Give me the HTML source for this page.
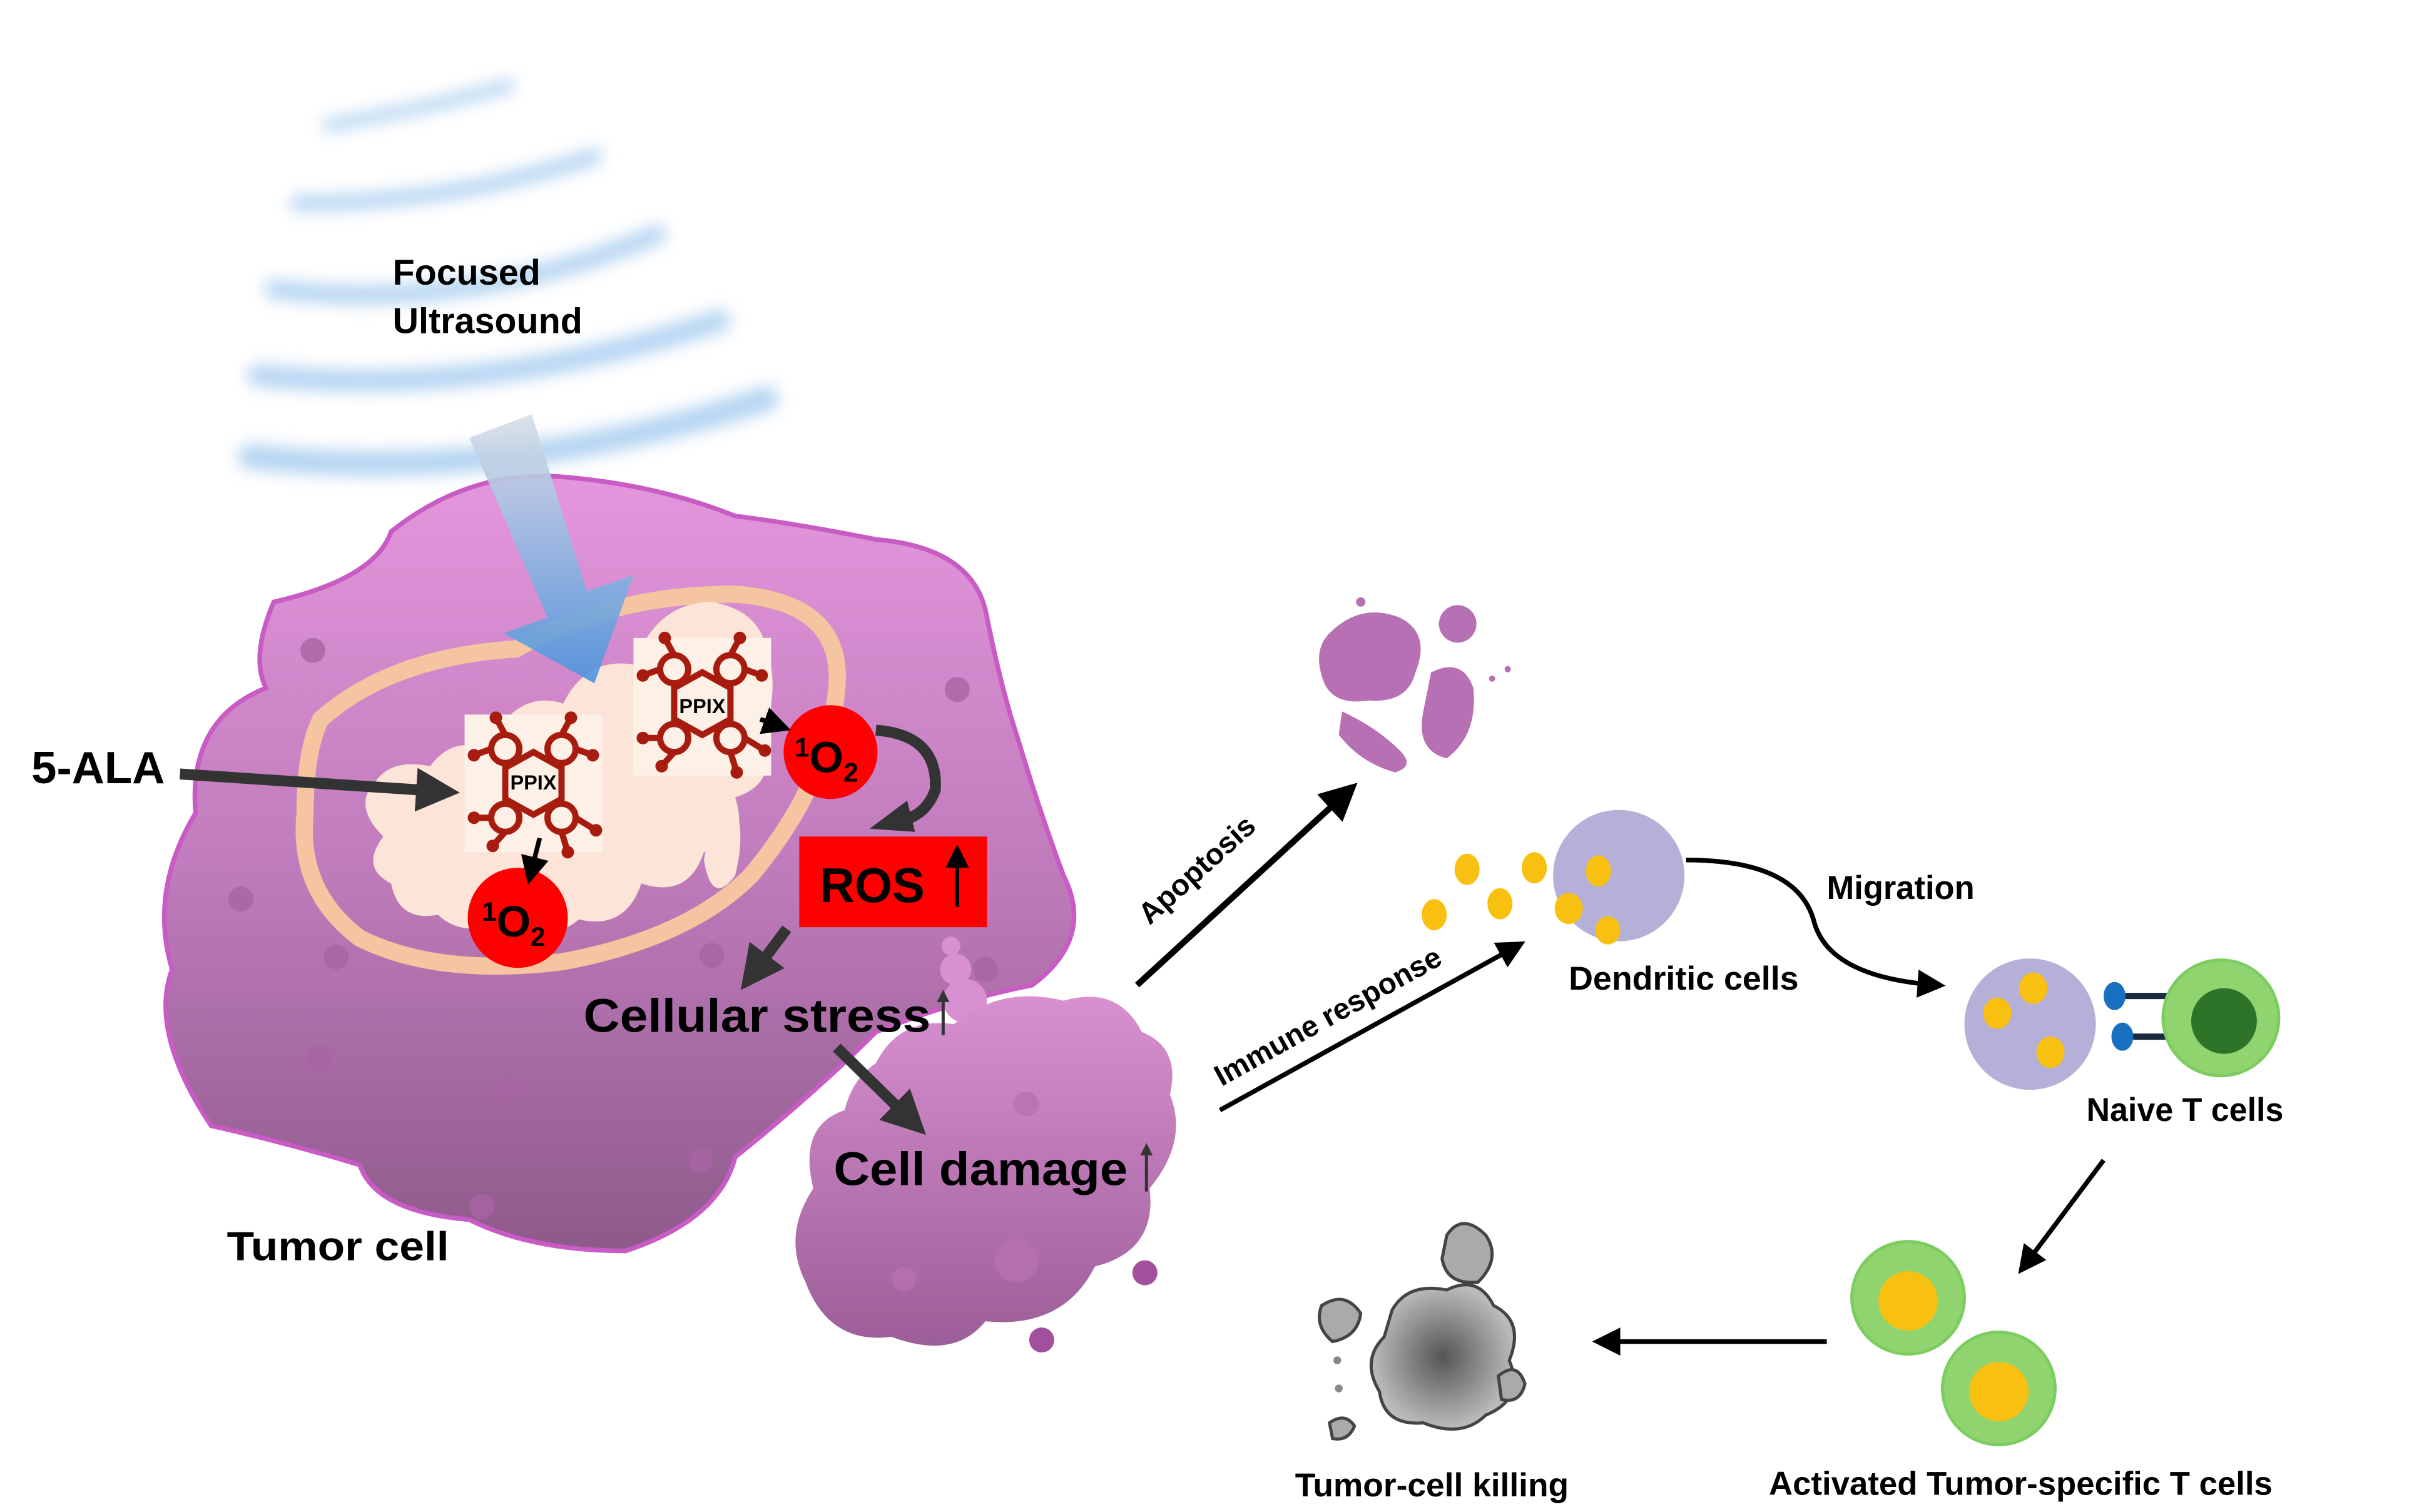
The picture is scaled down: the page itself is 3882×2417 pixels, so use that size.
<!DOCTYPE html>
<html><head><meta charset="utf-8"><style>
html,body{margin:0;padding:0;background:#fff}
svg{display:block}
text{font-family:"Liberation Sans",sans-serif;font-weight:bold}
</style></head><body>
<svg width="3882" height="2417" viewBox="0 0 1553 967" xmlns="http://www.w3.org/2000/svg">
<defs>
<linearGradient id="cellg" x1="0" y1="0" x2="0" y2="1">
<stop offset="0" stop-color="#e496dc"/><stop offset="0.5" stop-color="#c07cbc"/><stop offset="1" stop-color="#8e5a8a"/>
</linearGradient>
<linearGradient id="dmg" x1="0" y1="0" x2="0" y2="1">
<stop offset="0" stop-color="#d890d0"/><stop offset="1" stop-color="#9c5e98"/>
</linearGradient>
<linearGradient id="usarrow" x1="0" y1="0" x2="0" y2="1">
<stop offset="0" stop-color="#d8dde6"/><stop offset="1" stop-color="#4a94dc"/>
</linearGradient>
<radialGradient id="grey" cx="0.5" cy="0.5" r="0.5">
<stop offset="0" stop-color="#555"/><stop offset="1" stop-color="#bbb"/>
</radialGradient>
<filter id="blur"><feGaussianBlur stdDeviation="5"/></filter>
<marker id="ah" markerWidth="6" markerHeight="6" refX="4" refY="3" orient="auto" markerUnits="strokeWidth">
<path d="M0,0 L6,3 L0,6 z" fill="#000"/></marker>
<marker id="ahd" markerWidth="4" markerHeight="4" refX="2" refY="2" orient="auto" markerUnits="strokeWidth">
<path d="M0,0 L4,2 L0,4 z" fill="#333"/></marker>
<g id="mol">
<g stroke="#a81c10" stroke-width="4" fill="none">
<polygon points="0,-20 18,-10 18,10 0,20 -18,10 -18,-10"/>
<circle cx="-18" cy="-22" r="9"/><circle cx="18" cy="-22" r="9"/><circle cx="-18" cy="22" r="9"/><circle cx="18" cy="22" r="9"/>
<line x1="-18" y1="-31" x2="-24" y2="-42"/><line x1="18" y1="-31" x2="24" y2="-42"/>
<line x1="-27" y1="-22" x2="-38" y2="-18"/><line x1="27" y1="-22" x2="38" y2="-18"/>
<line x1="-27" y1="22" x2="-38" y2="22"/><line x1="27" y1="22" x2="40" y2="30"/>
<line x1="-18" y1="31" x2="-26" y2="40"/><line x1="18" y1="31" x2="22" y2="44"/>
</g>
<g fill="#a81c10"><circle cx="-24" cy="-42" r="4"/><circle cx="24" cy="-42" r="4"/><circle cx="-38" cy="-18" r="4"/><circle cx="38" cy="-18" r="4"/><circle cx="-38" cy="22" r="4"/><circle cx="40" cy="30" r="4"/><circle cx="-26" cy="40" r="4"/><circle cx="22" cy="44" r="4"/></g>
</g>
</defs>

<!-- ultrasound waves -->
<g fill="none" stroke="#a8cdef" stroke-linecap="round" filter="url(#blur)" opacity="0.85">
<path d="M210,80 Q270,70 325,55" stroke-width="8"/>
<path d="M190,130 Q290,130 380,100" stroke-width="10"/>
<path d="M175,185 Q300,200 420,150" stroke-width="12"/>
<path d="M165,240 Q310,255 460,205" stroke-width="14"/>
<path d="M160,292 Q320,310 490,255" stroke-width="16"/>
</g>
<text x="251" y="182" font-size="23">Focused</text>
<text x="251" y="213" font-size="23">Ultrasound</text>

<!-- tumor cell -->
<path d="M250,340 Q240,370 175,385 Q160,420 170,440 Q120,460 125,520 Q95,570 110,620 Q95,660 135,720 Q180,730 230,745 Q240,775 300,780 Q340,800 400,800 Q460,780 470,740 Q520,700 560,660 Q610,640 660,630 Q700,600 680,560 Q665,520 650,470 Q640,440 630,390 Q620,350 560,345 Q510,335 470,330 Q420,310 360,305 Q300,300 250,340 Z" fill="url(#cellg)" stroke="#c85cc4" stroke-width="3"/>
<g fill="#a864a4" opacity="0.8">
<circle cx="200" cy="416" r="8"/><circle cx="154" cy="575" r="8"/><circle cx="215" cy="612" r="8"/><circle cx="325" cy="697" r="8"/><circle cx="204" cy="677" r="8"/><circle cx="448" cy="742" r="8"/><circle cx="455" cy="611" r="8"/><circle cx="612" cy="441" r="8"/><circle cx="630" cy="620" r="8"/><circle cx="308" cy="772" r="8"/>
</g>
<!-- mitochondrion -->
<path d="M205,460 Q250,420 330,415 Q390,380 470,380 Q540,385 535,440 Q530,500 480,560 Q440,600 360,615 Q280,625 230,600 Q190,570 195,520 Q195,480 205,460 Z" fill="none" stroke="#f5c4a0" stroke-width="11"/>
<g fill="#fce4d8">
<path d="M240,500 Q250,485 275,490 Q290,470 310,480 Q330,440 360,450 Q375,420 405,425 Q420,385 455,385 Q485,390 490,415 Q500,445 485,470 Q500,500 470,510 Q480,540 450,545 Q440,575 410,565 Q400,595 370,588 Q350,605 325,590 Q295,600 280,585 Q255,590 250,565 Q230,555 245,535 Q225,515 240,500 Z"/>
<path d="M460,500 Q480,520 470,560 Q455,580 450,550 Z"/>
</g>
<!-- ultrasound arrow -->
<polygon points="300,280 340,265 375,378 405,368 380,437 322,405 350,395" fill="url(#usarrow)" opacity="0.9"/>
<!-- PPIX boxes -->
<rect x="297" y="457" width="88" height="88" fill="#fdf0e6"/>
<use href="#mol" x="341" y="501"/>
<text x="341" y="505" font-size="13" text-anchor="middle">PPIX</text>
<rect x="405" y="408" width="88" height="88" fill="#fdf0e6"/>
<use href="#mol" x="449" y="450"/>
<text x="449" y="456" font-size="13" text-anchor="middle">PPIX</text>
<ellipse cx="331" cy="587" rx="32" ry="32" fill="#f00"/>
<text x="308" y="599" font-size="28" font-weight="normal"><tspan font-size="17" dy="-10">1</tspan><tspan dy="10">O</tspan><tspan font-size="17" dy="6">2</tspan></text>
<ellipse cx="531" cy="481" rx="30" ry="30" fill="#f00"/>
<text x="508" y="494" font-size="28" font-weight="normal"><tspan font-size="17" dy="-10">1</tspan><tspan dy="10">O</tspan><tspan font-size="17" dy="6">2</tspan></text>
<line x1="345" y1="536" x2="339" y2="560" stroke="#000" stroke-width="3" marker-end="url(#ah)"/>
<line x1="486" y1="460" x2="500" y2="465" stroke="#000" stroke-width="3" marker-end="url(#ah)"/>
<path d="M560,467 Q600,470 598,505 Q592,522 575,525" fill="none" stroke="#333" stroke-width="7"/>
<polygon points="556,530 580,512 585,532" fill="#333"/>
<rect x="511" y="535" width="120" height="58" fill="#f00"/>
<text x="524" y="577" font-size="31">ROS</text>
<line x1="612" y1="580" x2="612" y2="545" stroke="#000" stroke-width="2.5" marker-end="url(#ah)"/>
<text x="20" y="501" font-size="29">5-ALA</text>
<line x1="115" y1="495" x2="280" y2="506" stroke="#333" stroke-width="7" marker-end="url(#ahd)"/>
<line x1="503" y1="594" x2="482" y2="622" stroke="#333" stroke-width="7" marker-end="url(#ahd)"/>
<g fill="#d890d0"><circle cx="608" cy="605" r="6"/><circle cx="611" cy="620" r="10"/><circle cx="617" cy="640" r="14"/></g>
<path d="M560,680 Q575,650 610,655 Q640,630 680,640 Q715,630 730,660 Q755,670 748,700 Q760,730 735,760 Q740,800 700,810 Q680,850 630,845 Q610,870 570,855 Q530,860 515,820 Q500,790 520,760 Q510,720 540,710 Q545,690 560,680 Z" fill="url(#dmg)"/>
<g fill="#b670b2" opacity="0.8"><circle cx="656" cy="706" r="8"/><circle cx="578" cy="818" r="8"/><circle cx="650" cy="806" r="14"/></g>
<circle cx="732" cy="814" r="8" fill="#a0509c"/>
<circle cx="666" cy="857" r="8" fill="#a0509c"/>
<text x="373" y="660" font-size="30" textLength="222" lengthAdjust="spacingAndGlyphs">Cellular stress</text>
<line x1="603" y1="662" x2="603" y2="637" stroke="#333" stroke-width="2" marker-end="url(#ahd)"/>
<line x1="535" y1="670" x2="582" y2="716" stroke="#333" stroke-width="7" marker-end="url(#ahd)"/>
<text x="533" y="758" font-size="30" textLength="188" lengthAdjust="spacingAndGlyphs">Cell damage</text>
<line x1="733" y1="762" x2="733" y2="735" stroke="#333" stroke-width="2" marker-end="url(#ahd)"/>
<text x="145" y="806" font-size="26" textLength="142" lengthAdjust="spacingAndGlyphs">Tumor cell</text>

<line x1="727" y1="630" x2="862" y2="506" stroke="#000" stroke-width="4" marker-end="url(#ah)"/>
<text transform="translate(735,592) rotate(-42)" font-size="19">Apoptosis</text>
<g fill="#b870b4">
<path d="M850,405 Q870,385 895,395 Q915,405 905,430 Q900,450 875,448 Q850,452 845,432 Q840,415 850,405 Z"/>
<path d="M858,455 Q880,465 895,480 Q905,490 892,494 Q870,488 856,470 Z"/>
<path d="M915,430 Q935,420 942,440 Q945,470 925,485 Q905,480 910,455 Z"/>
<circle cx="932" cy="399" r="12"/><circle cx="964" cy="428" r="2"/><circle cx="954" cy="434" r="2"/><circle cx="870" cy="385" r="3"/>
</g>
<line x1="780" y1="710" x2="970" y2="605" stroke="#000" stroke-width="3" marker-end="url(#ah)"/>
<text transform="translate(781,695) rotate(-29)" font-size="19">Immune response</text>
<circle cx="1035" cy="560" r="42" fill="#b4b0d8"/>
<g fill="#f8c010">
<ellipse cx="938" cy="556" rx="8" ry="10"/><ellipse cx="981" cy="555" rx="8" ry="10"/><ellipse cx="959" cy="578" rx="8" ry="10"/><ellipse cx="917" cy="585" rx="8" ry="10"/><ellipse cx="1022" cy="557" rx="8" ry="10"/><ellipse cx="1003" cy="581" rx="9" ry="10"/><ellipse cx="1028" cy="595" rx="8" ry="9"/>
</g>
<text x="1003" y="633" font-size="21" textLength="147" lengthAdjust="spacingAndGlyphs">Dendritic cells</text>
<path d="M1078,550 Q1150,550 1160,590 Q1170,625 1238,630" fill="none" stroke="#000" stroke-width="3" marker-end="url(#ah)"/>
<text x="1168" y="575" font-size="21">Migration</text>
<circle cx="1298" cy="655" r="42" fill="#b4b0d8"/>
<g fill="#f8c010"><ellipse cx="1300" cy="632" rx="9" ry="10"/><ellipse cx="1277" cy="648" rx="9" ry="10"/><ellipse cx="1311" cy="673" rx="9" ry="10"/></g>
<g stroke="#1a2a40" stroke-width="4"><line x1="1355" y1="637" x2="1390" y2="637"/><line x1="1357" y1="663" x2="1390" y2="663"/></g>
<g fill="#1a70c0"><ellipse cx="1352" cy="637" rx="7" ry="9"/><ellipse cx="1357" cy="663" rx="7" ry="9"/></g>
<circle cx="1420" cy="651" r="37" fill="#90d470" stroke="#7ccc60" stroke-width="2"/>
<circle cx="1422" cy="653" r="21" fill="#2e7428"/>
<text x="1334" y="717" font-size="21" textLength="126" lengthAdjust="spacingAndGlyphs">Naive T cells</text>
<line x1="1345" y1="742" x2="1294" y2="810" stroke="#000" stroke-width="3" marker-end="url(#ah)"/>
<circle cx="1220" cy="830" r="36" fill="#90d470" stroke="#7ccc60" stroke-width="2"/>
<circle cx="1220" cy="832" r="19" fill="#f8c010"/>
<circle cx="1278" cy="888" r="36" fill="#90d470" stroke="#7ccc60" stroke-width="2"/>
<circle cx="1278" cy="890" r="19" fill="#f8c010"/>
<text x="1131" y="956" font-size="21" textLength="322" lengthAdjust="spacingAndGlyphs">Activated Tumor-specific T cells</text>
<line x1="1168" y1="858" x2="1024" y2="858" stroke="#000" stroke-width="3" marker-end="url(#ah)"/>
<g stroke="#444" stroke-width="2">
<path d="M890,838 Q900,820 925,825 Q945,815 955,835 Q975,845 965,870 Q975,895 950,905 Q935,920 910,910 Q885,912 882,890 Q870,870 885,855 Z" fill="url(#grey)"/>
<path d="M925,790 Q935,775 950,790 Q960,805 945,820 Q925,822 922,805 Z" fill="#aaa"/>
<path d="M845,835 Q860,825 870,840 Q868,855 852,858 Q840,848 845,835 Z" fill="#aaa"/>
<path d="M958,880 Q970,870 975,885 Q972,898 960,895 Z" fill="#aaa"/>
<path d="M850,910 Q860,903 866,912 Q862,922 852,920 Z" fill="#aaa"/>
</g>
<circle cx="855" cy="870" r="2.5" fill="#888"/><circle cx="856" cy="888" r="2.5" fill="#888"/>
<text x="828" y="957" font-size="21" textLength="175" lengthAdjust="spacingAndGlyphs">Tumor-cell killing</text>
</svg>
</body></html>
